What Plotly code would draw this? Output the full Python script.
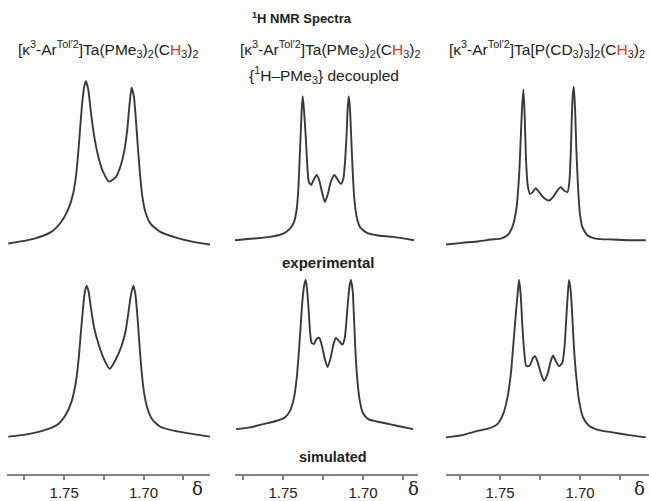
import plotly.graph_objects as go

W, H = 649, 501

# ---- data (chemical shift in ppm, intensity in a.u.) ----
# Column 1: [k3-ArTol'2]Ta(PMe3)2(CH3)2
delta_1_exp = [1.7852, 1.7686, 1.7581, 1.7519, 1.7477, 1.7446, 1.7425, 1.7411, 1.7398, 1.7386, 1.7373, 1.7363,
               1.7348, 1.7331, 1.7311, 1.7286, 1.7258, 1.7217, 1.7175, 1.7144, 1.7119, 1.7102, 1.7089, 1.7075,
               1.7061, 1.7048, 1.7036, 1.7023, 1.7008, 1.6988, 1.6956, 1.6894, 1.6789, 1.6686, 1.6581]
int_1_exp = [5, 10, 16.7, 26.7, 38.3, 53.3, 73.3, 96.7, 123.3, 146.7, 163.3, 168.3,
             160, 136.7, 113.3, 93.3, 78.3, 67.3, 71.7, 83.3, 100, 120, 143.3, 161.7,
             153.3, 130, 103.3, 76.7, 53.3, 36.7, 25, 16.7, 10.7, 6.7, 4]

delta_1_sim = [1.7852, 1.7727, 1.7623, 1.7539, 1.7488, 1.7452, 1.7425, 1.7408, 1.7394, 1.7379, 1.7369, 1.7358,
               1.7346, 1.7331, 1.7311, 1.7279, 1.7248, 1.7213, 1.7175, 1.7139, 1.7113, 1.7094, 1.7079, 1.7064,
               1.7052, 1.7039, 1.7027, 1.7014, 1.6998, 1.6977, 1.6946, 1.6894, 1.6789, 1.6686, 1.6581]
int_1_sim = [10.7, 13.3, 17.3, 23.3, 33.3, 46.7, 66.7, 90, 116.7, 143.3, 156.7, 162.7,
             156.7, 140, 120, 101.7, 88.3, 79, 88.3, 101.7, 116.7, 136.7, 153.3, 162.7,
             155, 133.3, 106.7, 80, 56.7, 40, 28.3, 20.7, 16, 13.3, 10.7]

# Column 2: {1H-PMe3} decoupled
delta_2_exp = [1.7800, 1.7686, 1.7581, 1.7498, 1.7456, 1.7431, 1.7414, 1.7404, 1.7396, 1.7389, 1.7383, 1.7377,
               1.7369, 1.7358, 1.7348, 1.7338, 1.7323, 1.7306, 1.7289, 1.7273, 1.7256, 1.7238, 1.7219, 1.7202,
               1.7179, 1.7161, 1.7139, 1.7123, 1.7111, 1.7102, 1.7096, 1.7089, 1.7081, 1.7073, 1.7064, 1.7054,
               1.7039, 1.7019, 1.6977, 1.6914, 1.6811, 1.6681]
int_2_exp = [8.3, 10, 11.7, 15, 20, 26.7, 40, 60, 90, 116.7, 140, 153.3,
             140, 113.3, 83.3, 66.7, 64, 70, 74, 68.3, 56.7, 46.7, 55, 66.7,
             74, 70, 65, 70, 90, 116.7, 140, 153.3, 140, 110, 76.7, 50,
             31.7, 21.7, 16, 13.3, 11.7, 8.3]

delta_2_sim = [1.7794, 1.7706, 1.7623, 1.7539, 1.7488, 1.7456, 1.7431, 1.7414, 1.7402, 1.7389, 1.7379, 1.7367,
               1.7358, 1.7350, 1.7339, 1.7331, 1.7321, 1.7306, 1.7289, 1.7273, 1.7256, 1.7238, 1.7221, 1.7202,
               1.7186, 1.7169, 1.7148, 1.7129, 1.7114, 1.7102, 1.7092, 1.7083, 1.7075, 1.7064, 1.7056, 1.7048,
               1.7038, 1.7023, 1.7002, 1.6967, 1.6914, 1.6852, 1.6789, 1.6686]
int_2_sim = [18.3, 20, 23.3, 26.7, 30, 36.7, 50, 70, 93.3, 123.3, 146.7, 163.3,
             168.3, 160, 136.7, 116.7, 105, 104, 109.3, 110, 101.7, 88.3, 80.7, 90,
             102.7, 110, 106.7, 103.3, 110, 130, 150, 163.3, 168.3, 156.7, 130, 100,
             73.3, 50, 35, 28.3, 26, 24, 21.7, 18.3]

# Column 3: [k3-ArTol'2]Ta[P(CD3)3]2(CH3)2
delta_3_exp = [1.7839, 1.7736, 1.7631, 1.7558, 1.7496, 1.7454, 1.7423, 1.7398, 1.7381, 1.7371, 1.7363, 1.7354,
               1.7346, 1.7338, 1.7327, 1.7313, 1.7296, 1.7277, 1.7256, 1.7225, 1.7194, 1.7169, 1.7142, 1.7121,
               1.7100, 1.7079, 1.7067, 1.7058, 1.7052, 1.7046, 1.7039, 1.7031, 1.7023, 1.7013, 1.7002, 1.6986,
               1.6954, 1.6902, 1.6798, 1.6694, 1.6589]
int_3_exp = [4, 5.7, 7.3, 9, 10, 13.3, 21.7, 40, 73.3, 110, 140, 160,
             133.3, 90, 63.3, 55, 56.7, 60.7, 56.7, 50.7, 48.3, 51.7, 58.3, 61.7,
             58.3, 56.7, 66.7, 96.7, 130, 153.3, 162.7, 140, 100, 63.3, 36.7, 21.7,
             13.3, 10, 9, 8.3, 8.3]

delta_3_sim = [1.7839, 1.7736, 1.7652, 1.7569, 1.7517, 1.7481, 1.7454, 1.7433, 1.7417, 1.7402, 1.7389, 1.7381,
               1.7371, 1.7361, 1.7350, 1.7336, 1.7314, 1.7294, 1.7281, 1.7267, 1.7246, 1.7225, 1.7204, 1.7183,
               1.7169, 1.7152, 1.7131, 1.7111, 1.7096, 1.7086, 1.7077, 1.7069, 1.7058, 1.7048, 1.7038, 1.7023,
               1.7006, 1.6981, 1.6944, 1.6881, 1.6798, 1.6694, 1.6589]
int_3_sim = [10, 12.3, 16, 19, 23.3, 33.3, 50, 73.3, 103.3, 133.3, 156.7, 168.3,
             153.3, 123.3, 98.3, 81.7, 82.3, 90, 91.7, 86.7, 75, 66.7, 73.3, 86.7,
             92.3, 86.7, 81.7, 85, 103.3, 130, 153.3, 168.3, 156.7, 130, 100, 70,
             46.7, 30, 21.7, 17.3, 15, 12.3, 10]

tick_vals = [1.775, 1.75, 1.725, 1.70, 1.675]
tick_text = ["", "1.75", "", "1.70", ""]

col_titles = [
    "[κ<sup>3</sup>-Ar<sup>Tol′2</sup>]Ta(PMe<sub>3</sub>)<sub>2</sub>(C<span style='color:#e03a22'>H</span><sub>3</sub>)<sub>2</sub>",
    "[κ<sup>3</sup>-Ar<sup>Tol′2</sup>]Ta(PMe<sub>3</sub>)<sub>2</sub>(C<span style='color:#e03a22'>H</span><sub>3</sub>)<sub>2</sub>",
    "[κ<sup>3</sup>-Ar<sup>Tol′2</sup>]Ta[P(CD<sub>3</sub>)<sub>3</sub>]<sub>2</sub>(C<span style='color:#e03a22'>H</span><sub>3</sub>)<sub>2</sub>",
]

# ---- layout geometry (pixels) ----
col_px = [(7, 210), (235, 418), (446, 649)]
col_range = [(1.786, 1.6581), (1.780, 1.6656), (1.7838, 1.6569)]
row_px = [(70, 250), (270, 450)]   # top, bottom (pixel y, top->bottom)
axis_line_y = 478

def px_x(p):
    return p / W

def px_y(p):
    return 1 - p / H

series = [
    (delta_1_exp, int_1_exp, 0, 0), (delta_2_exp, int_2_exp, 1, 0), (delta_3_exp, int_3_exp, 2, 0),
    (delta_1_sim, int_1_sim, 0, 1), (delta_2_sim, int_2_sim, 1, 1), (delta_3_sim, int_3_sim, 2, 1),
]

fig = go.Figure()
layout = {}
for i, (dx, iy, c, r) in enumerate(series):
    n = i + 1
    xa = "x" if n == 1 else f"x{n}"
    ya = "y" if n == 1 else f"y{n}"
    fig.add_trace(go.Scatter(x=dx, y=iy, mode="lines", xaxis=xa, yaxis=ya,
                             line=dict(color="#3b3838", width=1.9, shape="spline", smoothing=0.6),
                             showlegend=False, hoverinfo="skip"))
    xkey = "xaxis" if n == 1 else f"xaxis{n}"
    ykey = "yaxis" if n == 1 else f"yaxis{n}"
    x0, x1 = col_px[c]
    ytop, ybot = row_px[r]
    xdict = dict(domain=[px_x(x0), px_x(x1)], range=list(col_range[c]),
                 showgrid=False, zeroline=False)
    if r == 1:
        xdict.update(anchor="free", position=px_y(axis_line_y), showline=True,
                     linecolor="#8a7f7f", linewidth=2, ticks="outside", ticklen=4,
                     tickwidth=1.5, tickcolor="#8a7f7f", tickvals=tick_vals, ticktext=tick_text,
                     tickfont=dict(family="Liberation Sans, Arial, sans-serif", size=15, color="#222"))
    else:
        xdict.update(visible=False, anchor=ya)
    layout[xkey] = xdict
    layout[ykey] = dict(domain=[px_y(ybot), px_y(ytop)], range=[0, 180], visible=False,
                        anchor=xa, fixedrange=True)

annotations = []
font = "Liberation Sans, Arial, sans-serif"
annotations.append(dict(text="<b><sup>1</sup>H NMR Spectra</b>", x=px_x(302), y=px_y(18),
                        font=dict(family=font, size=13, color="#222")))
annotations.append(dict(text=col_titles[0], x=px_x(108), y=px_y(49),
                        font=dict(family=font, size=15.5, color="#222")))
annotations.append(dict(text=col_titles[1], x=px_x(330), y=px_y(49),
                        font=dict(family=font, size=15.5, color="#222")))
annotations.append(dict(text="{<sup>1</sup>H–PMe<sub>3</sub>} decoupled", x=px_x(324), y=px_y(75),
                        font=dict(family=font, size=15.5, color="#222")))
annotations.append(dict(text=col_titles[2], x=px_x(447), y=px_y(49), xanchor="left",
                        font=dict(family=font, size=15.5, color="#222")))
annotations.append(dict(text="<b>experimental</b>", x=px_x(328), y=px_y(264),
                        font=dict(family=font, size=15, color="#222")))
annotations.append(dict(text="<b>simulated</b>", x=px_x(333), y=px_y(460),
                        font=dict(family=font, size=14.5, color="#222")))
for dxp in (197, 413, 639):
    annotations.append(dict(text="δ", x=px_x(dxp), y=px_y(491),
                            font=dict(family="DejaVu Serif, serif", size=18, color="#222")))
for a in annotations:
    a.update(xref="paper", yref="paper", showarrow=False, xanchor=a.get("xanchor", "center"),
             yanchor="middle")

fig.update_layout(width=W, height=H, margin=dict(l=0, r=0, t=0, b=0),
                  paper_bgcolor="#fdfdfc", plot_bgcolor="rgba(0,0,0,0)",
                  annotations=annotations, **layout)

fig.write_html("out.html", config={"displayModeBar": False})
